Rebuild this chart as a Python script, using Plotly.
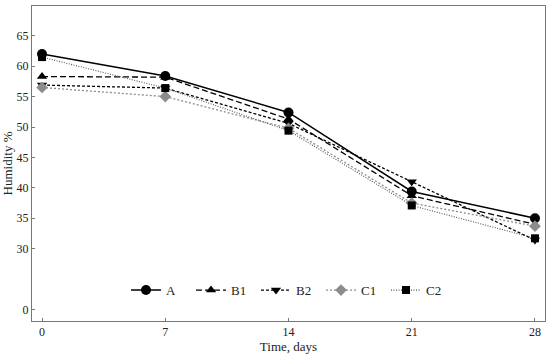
import plotly.graph_objects as go

days = [0, 7, 14, 21, 28]
series_names = ["A", "B1", "B2", "C1", "C2"]
A = [62.0, 58.4, 52.4, 39.4, 35.0]
B1 = [58.3, 58.2, 51.3, 38.7, 34.0]
B2 = [56.9, 56.4, 50.6, 41.0, 31.4]
C1 = [56.5, 55.0, 49.8, 37.5, 33.7]
C2 = [61.5, 56.4, 49.4, 37.1, 31.7]
y_tickvals = [20, 30, 35, 40, 45, 50, 55, 60, 65]
y_ticktext = ["0", "30", "35", "40", "45", "50", "55", "60", "65"]

styles = {
    "A": dict(line=dict(color="black", width=1.5, dash="solid"), marker=dict(symbol="circle", size=10, color="black")),
    "B1": dict(line=dict(color="black", width=1.3, dash="6px,3px"), marker=dict(symbol="triangle-up", size=9, color="black")),
    "B2": dict(line=dict(color="black", width=1.3, dash="3px,2px"), marker=dict(symbol="triangle-down", size=9, color="black")),
    "C1": dict(line=dict(color="#8c8c8c", width=1.3, dash="2px,2px"), marker=dict(symbol="diamond", size=9, color="#8c8c8c")),
    "C2": dict(line=dict(color="#555555", width=1.1, dash="1px,1.5px"), marker=dict(symbol="square", size=8, color="black")),
}
data = {"A": A, "B1": B1, "B2": B2, "C1": C1, "C2": C2}

fig = go.Figure()
for name in series_names:
    fig.add_trace(go.Scatter(x=days, y=data[name], name=name, mode="lines+markers", **styles[name]))

font = dict(family="Liberation Serif, Times New Roman, serif", size=12, color="#222")
fig.update_layout(
    width=550, height=355,
    margin=dict(l=32, r=5, t=6, b=34, autoexpand=False),
    paper_bgcolor="white", plot_bgcolor="white",
    font=font,
    showlegend=True,
    legend=dict(orientation="h", x=0.5, xanchor="center", y=0.098, yanchor="middle",
                font=dict(size=13), itemwidth=30, entrywidth=20, bgcolor="rgba(0,0,0,0)"),
    xaxis=dict(range=[-0.57, 28.57], tickvals=days, showgrid=False, zeroline=False,
               showline=True, linecolor="#777", mirror=True, ticks="inside", ticklen=3,
               tickcolor="#777", title=dict(text="Time, days", standoff=0, font=dict(size=13)),
               tickfont=dict(size=12)),
    yaxis=dict(range=[18.1, 69.9], tickvals=y_tickvals, ticktext=y_ticktext, showgrid=False,
               zeroline=False, showline=True, linecolor="#777", mirror=True, ticks="inside",
               ticklen=3, tickcolor="#777", title=dict(text="Humidity %", standoff=2, font=dict(size=13)),
               tickfont=dict(size=12)),
)
fig.write_html("out.html", post_script="document.body.style.margin='0';",
               config={"displayModeBar": False})
